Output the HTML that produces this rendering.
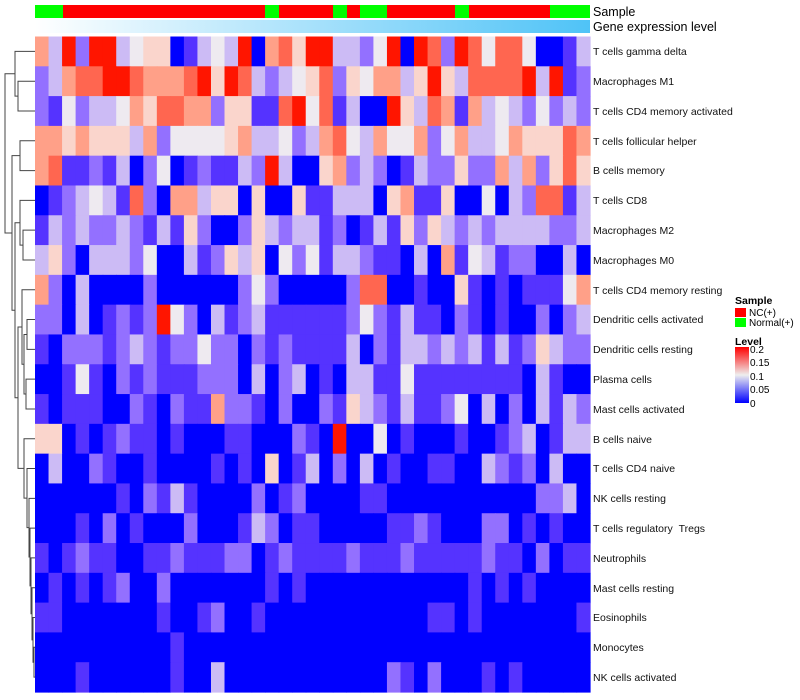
<!DOCTYPE html>
<html><head><meta charset="utf-8"><style>
body{margin:0;background:#fff;width:800px;height:700px;overflow:hidden}
svg{display:block;font-family:"Liberation Sans",Arial,sans-serif}
</style></head><body>
<svg id="s" width="800" height="700" xmlns="http://www.w3.org/2000/svg">
<defs>
<linearGradient id="ge" x1="0" x2="1" y1="0" y2="0"><stop offset="0" stop-color="#ffffff"/><stop offset="1" stop-color="#4fc3f7"/></linearGradient>
<linearGradient id="lv" x1="0" x2="0" y1="0" y2="1"><stop offset="0" stop-color="#ff0000"/><stop offset="0.5" stop-color="#eeeeee"/><stop offset="1" stop-color="#0000ff"/></linearGradient>
</defs>
<g id="sample">
<rect x="35" y="5" width="28" height="13" fill="#00ff00"/>
<rect x="63" y="5" width="202" height="13" fill="#ff0000"/>
<rect x="265" y="5" width="14" height="13" fill="#00ff00"/>
<rect x="279" y="5" width="54" height="13" fill="#ff0000"/>
<rect x="333" y="5" width="14" height="13" fill="#00ff00"/>
<rect x="347" y="5" width="13" height="13" fill="#ff0000"/>
<rect x="360" y="5" width="27" height="13" fill="#00ff00"/>
<rect x="387" y="5" width="68" height="13" fill="#ff0000"/>
<rect x="455" y="5" width="14" height="13" fill="#00ff00"/>
<rect x="469" y="5" width="81" height="13" fill="#ff0000"/>
<rect x="550" y="5" width="40" height="13" fill="#00ff00"/>
</g>
<rect x="35" y="20" width="555" height="13" fill="url(#ge)"/>
<text x="593" y="16" font-size="12.5" fill="#000">Sample</text>
<text x="593" y="31" font-size="12.5" fill="#000">Gene expression level</text>
<g id="cells"></g>
<g id="dend" stroke="#444" stroke-width="1" fill="none"></g>
<g font-size="10.5" fill="#111">
<text x="593" y="55">T cells gamma delta</text>
<text x="593" y="85">Macrophages M1</text>
<text x="593" y="115">T cells CD4 memory activated</text>
<text x="593" y="145">T cells follicular helper</text>
<text x="593" y="174">B cells memory</text>
<text x="593" y="204">T cells CD8</text>
<text x="593" y="234">Macrophages M2</text>
<text x="593" y="264">Macrophages M0</text>
<text x="593" y="294">T cells CD4 memory resting</text>
<text x="593" y="323">Dendritic cells activated</text>
<text x="593" y="353">Dendritic cells resting</text>
<text x="593" y="383">Plasma cells</text>
<text x="593" y="413">Mast cells activated</text>
<text x="593" y="443">B cells naive</text>
<text x="593" y="472">T cells CD4 naive</text>
<text x="593" y="502">NK cells resting</text>
<text x="593" y="532">T cells regulatory &#160;Tregs</text>
<text x="593" y="562">Neutrophils</text>
<text x="593" y="592">Mast cells resting</text>
<text x="593" y="621">Eosinophils</text>
<text x="593" y="651">Monocytes</text>
<text x="593" y="681">NK cells activated</text>
</g>
<g>
<text x="735" y="304" font-size="10.5" font-weight="bold">Sample</text>
<rect x="735" y="308" width="11" height="9" fill="#ff0000"/>
<rect x="735" y="318" width="11" height="9" fill="#00ff00"/>
<text x="749" y="316" font-size="10">NC(+)</text>
<text x="749" y="326" font-size="10">Normal(+)</text>
<text x="735" y="345" font-size="10.5" font-weight="bold">Level</text>
<rect x="735" y="347" width="14" height="56" fill="url(#lv)"/>
<g font-size="10"><text x="750" y="353">0.2</text><text x="750" y="366">0.15</text><text x="750" y="380">0.1</text><text x="750" y="393">0.05</text><text x="750" y="407">0</text></g>
</g>
</svg>
<script>
var C={B:"#0000ff",b:"#5533ff",p:"#9370ff",l:"#ccbbf5",w:"#eeeaf0",k:"#fad5cc",s:"#ffa088",o:"#ff6650",R:"#ff1500"};
var rows=[
"slRpRRlwkkBblwlRBsokR"+"RllpwRBRopRowoowBBbl",
"plsooRRosssoRkRolplwk"+"opkwsslkRklooooRlRbp",
"pbwpllwskoosspkkbboRw"+"oblBBRklosbslwlpwplp",
"sskskkklspwwwwksllwpl"+"sowlswwspwsllwskkkos",
"sobbpblBpwBbpbblpRlBB"+"ksplpBblppkppslspkok",
"BbplwlbopBsslkkBkBBkb"+"blllBksbbkBBwBlpoobl",
"blplpplpblbkpBBpklpll"+"bpBblbkpklplpllllppl",
"lkpBlllpwBBlbpklkBwpw"+"bllpbbBlBsbwlbppBBlB",
"spBlBBBBpBBBBBBpwpBBB"+"BBpooBBbBBkbBbBbbbws",
"ppBlBbpbpRwpBlbplbbbb"+"bbpwpblbbBpbBbBBpBpl",
"bBpppbplpbppwppBpbpbb"+"bblBpbllplplblbpklpp",
"BBbwbBpbpbbbpppBlBplB"+"bBllbbwbbbbbbbbBlbBB",
"bBbbbBBpbBpbbsppbBpBB"+"pbklpblbbpwBlBpBlblp",
"kkBbBbpbbBbBBBbbBBBpb"+"BRBBwBbBBBbBBbplBbll",
"BlBBpbBBbBBBBbBbBkBbl"+"BpBlBbBBbbBBlpbpBlBB",
"BBBBBBbBpblbBBBBpBbpB"+"BBBbbBBBBBBBBBBBpplB",
"BBBbBpBbBBBpBBBblpBbb"+"BBBBBbbpbBBBppBbBbBB",
"bBbpbbBBbbpbbbppBbpbb"+"bbpbbbpbbbbbpbbBpBbb",
"BbBbBbpBBpBBBBBBBbBbB"+"BBBBBBBBBBBbBbBbBBBB",
"bbBBBBBBBbBBbpBBbBBBB"+"BBBBBBBBbbBbBBBBBBBb",
"BBBBBBBBBBbBBBBBBBBBB"+"BBBBBBBBBBBBBBBBBBBB",
"BBBbBBBBBBbBBlBBBBBBB"+"BBBBBpbBpBBBbBbBBBBB"];
var ns="http://www.w3.org/2000/svg",g=document.getElementById("cells");
var x0=35,y0=36.5,cw=555/41,rh=655.5/22;
rows.forEach(function(r,i){for(var j=0;j<r.length;j++){var e=document.createElementNS(ns,"rect");
e.setAttribute("x",(x0+j*cw).toFixed(2));e.setAttribute("y",(y0+i*rh).toFixed(2));
e.setAttribute("width",(cw+0.6).toFixed(2));e.setAttribute("height",(rh+0.6).toFixed(2));
e.setAttribute("fill",C[r[j]]);g.appendChild(e);}});
function yc(i){return y0+rh*(i-0.5);}
var d=document.getElementById("dend"),P="";
function leaf(i){return {x:35,y:yc(i)};}
function join(a,b,x){P+="M"+a.x+" "+a.y+"H"+x+"V"+b.y+"H"+b.x;return {x:x,y:(a.y+b.y)/2};}
var A=join(leaf(1),join(leaf(2),leaf(3),18),15);
var Bn=join(leaf(4),leaf(5),20);
var Cn=join(leaf(6),join(leaf(7),leaf(8),23),20);
var n1013=join(join(leaf(10),leaf(11),27),join(leaf(12),leaf(13),26),24);
var n9=join(leaf(9),n1013,22);
var M=join(leaf(20),join(leaf(21),leaf(22),34),33);
var L=join(leaf(19),M,32);var K=join(leaf(18),L,31);var J=join(leaf(17),K,30);
var I=join(leaf(16),J,29);var H=join(leaf(15),I,27);var G=join(leaf(14),H,24);
var D=join(n9,G,18);var CD=join(Cn,D,15);var X=join(Bn,CD,12);join(A,X,5);
var p=document.createElementNS(ns,"path");p.setAttribute("d",P);d.appendChild(p);
</script>
</body></html>
